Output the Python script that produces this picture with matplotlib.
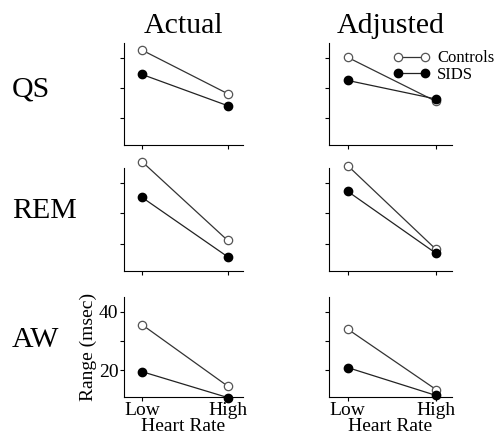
import matplotlib.pyplot as plt

plt.rcParams['font.family'] = ['Liberation Serif', 'DejaVu Serif']

# heart rate categories and panel names
heart_rate = ['Low', 'High']
states = ['QS', 'REM', 'AW']
columns = ['Actual', 'Adjusted']

# Range (msec), [Low, High]
controls_actual = [[42.6, 28.1], [47.1, 21.1], [35.6, 14.7]]
sids_actual = [[34.5, 24.1], [35.3, 15.7], [19.6, 10.8]]
controls_adjusted = [[40.2, 25.5], [45.8, 18.1], [34.1, 13.5]]
sids_adjusted = [[32.5, 26.3], [37.3, 16.8], [21.0, 11.5]]

y_ticks = [20, 30, 40]


def draw_panel(ax, controls, sids):
    x = range(len(heart_rate))
    ax.plot(x, controls, '-', color='#333333', linewidth=0.9,
            marker='o', markersize=6, markerfacecolor='white',
            markeredgecolor='#555555', markeredgewidth=0.9,
            clip_on=False, zorder=3, label='Controls')
    ax.plot(x, sids, '-', color='#222222', linewidth=0.9,
            marker='o', markersize=6, markerfacecolor='black',
            markeredgecolor='black', clip_on=False, zorder=4,
            label='SIDS')
    ax.set_xlim(-0.21, 1.18)
    ax.set_ylim(11, 45)
    ax.set_xticks(list(x))
    ax.set_yticks(y_ticks)
    ax.spines['top'].set_visible(False)
    ax.spines['right'].set_visible(False)
    ax.tick_params(direction='out', length=3, width=0.8, labelsize=14,
                   pad=1)


fig = plt.figure(figsize=(5.01, 4.42), dpi=100)

col_left = [0.2475, 0.6567]
col_width = [0.2375, 0.2455]
row_bottom = [0.672, 0.387, 0.102]
row_height = [0.231, 0.233, 0.226]
label_frac = [0.54, 0.585, 0.57]

data = [(controls_actual, sids_actual), (controls_adjusted, sids_adjusted)]

for c in range(2):
    for r in range(3):
        ax = fig.add_axes([col_left[c], row_bottom[r], col_width[c],
                           row_height[r]])
        draw_panel(ax, data[c][0][r], data[c][1][r])
        if r == 2:
            ax.set_xticklabels(heart_rate)
            ax.set_xlabel('Heart Rate', fontsize=14, labelpad=-1)
        else:
            ax.set_xticklabels([])
        if r == 2 and c == 0:
            ax.set_yticklabels([str(t) if t != 30 else '' for t in y_ticks])
            ax.set_ylabel('Range (msec)', fontsize=14, labelpad=1)
        else:
            ax.set_yticklabels([])
        if r == 0:
            ax.set_title(columns[c], fontsize=21.5, pad=7)
        if r == 0 and c == 1:
            ax.legend(loc='upper right', bbox_to_anchor=(1.44, 1.04),
                      frameon=False, fontsize=12, handlelength=2.2,
                      handletextpad=0.45, borderpad=0.2, labelspacing=0.02,
                      numpoints=2)
        if c == 0:
            ax.text(12 / 501, row_bottom[r] + label_frac[r] * row_height[r],
                    states[r], transform=fig.transFigure,
                    fontsize=21.5, ha='left', va='center')

fig.savefig('out.png', dpi=100)
